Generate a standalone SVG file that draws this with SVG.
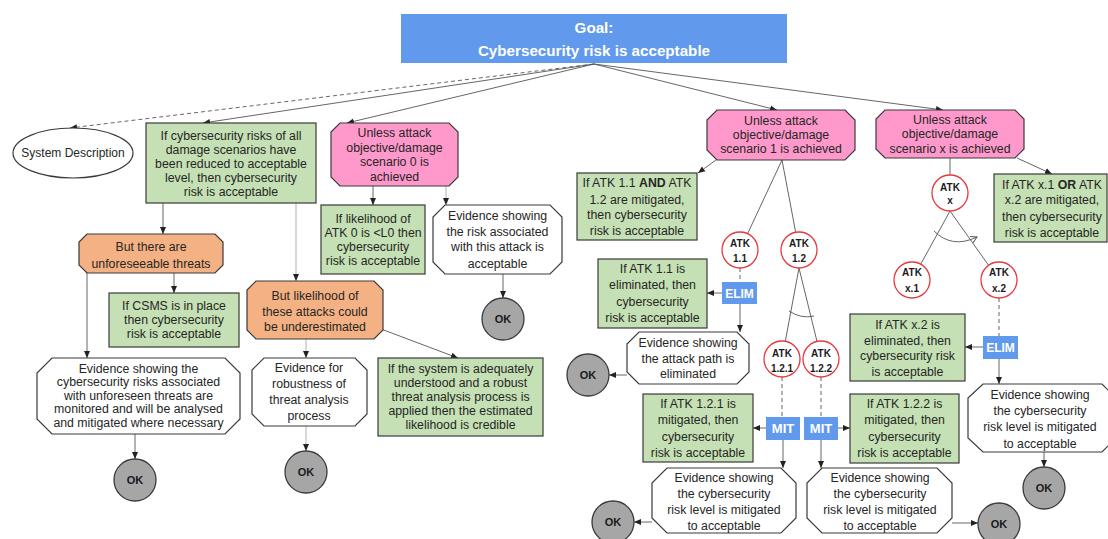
<svg xmlns="http://www.w3.org/2000/svg" width="1108" height="539" viewBox="0 0 1108 539">
  <defs>
    <style>
      .t { font-family: "Liberation Sans", Arial, sans-serif; font-size: 12.3px; fill: #262626; text-anchor: middle; }
      .b { font-weight: bold; }
      .goal { fill: #619AEC; }
      .goaltxt { font-family: "Liberation Sans", Arial, sans-serif; font-size: 15.2px; font-weight: bold; fill: #ffffff; text-anchor: middle; }
      .green { fill: #C5E0B4; stroke: #3A3A3A; stroke-width: 1.2; }
      .orange { fill: #F4B183; stroke: #3A3A3A; stroke-width: 1.2; }
      .pink { fill: #FF99CC; stroke: #3A3A3A; stroke-width: 1.2; }
      .white { fill: #ffffff; stroke: #3A3A3A; stroke-width: 1.2; }
      .ok { fill: #A6A6A6; stroke: #3A3A3A; stroke-width: 1.3; }
      .oktxt { font-family: "Liberation Sans", Arial, sans-serif; font-size: 11px; font-weight: bold; fill: #1a1a1a; text-anchor: middle; }
      .atk { fill: #ffffff; stroke: #E8383D; stroke-width: 1.3; }
      .atktxt { font-family: "Liberation Sans", Arial, sans-serif; font-size: 10px; font-weight: bold; fill: #1a1a1a; text-anchor: middle; }
      .tag { fill: #619AEC; }
      .tagtxt { font-family: "Liberation Sans", Arial, sans-serif; font-weight: bold; fill: #ffffff; text-anchor: middle; }
      .c { stroke: #555555; stroke-width: 0.9; fill: none; }
      .lt { stroke: #A8A8A8; }
      .dash { stroke-dasharray: 4 3; }
      .arr { marker-end: url(#head); }
    </style>
    <marker id="head" markerUnits="userSpaceOnUse" markerWidth="8" markerHeight="8" viewBox="0 0 8 8" refX="7" refY="4" orient="auto">
      <path d="M0,1 L7,4 L0,7 z" fill="#222222"/>
    </marker>
    <marker id="open" markerUnits="userSpaceOnUse" markerWidth="10" markerHeight="10" viewBox="0 0 10 10" refX="8" refY="5" orient="auto">
      <path d="M2,1.5 L8,5 L2,8.5" fill="none" stroke="#555555" stroke-width="1"/>
    </marker>
  </defs>

  <rect width="1108" height="539" fill="#ffffff"/>

  <!-- connectors -->
  <g id="connectors">
    <line class="c dash arr" x1="594" y1="64" x2="70" y2="128"/>
    <line class="c arr" x1="594" y1="64" x2="203" y2="123"/>
    <line class="c arr" x1="594" y1="64" x2="347" y2="123"/>
    <line class="c arr" x1="594" y1="64" x2="777" y2="110"/>
    <line class="c arr" x1="594" y1="64" x2="943" y2="110"/>

    <line class="c arr" x1="163" y1="203" x2="163" y2="234"/>
    <line class="c lt arr" x1="296" y1="203" x2="296" y2="281"/>
    <line class="c arr" x1="174" y1="273" x2="174" y2="293"/>
    <line class="c arr" x1="87" y1="273" x2="87" y2="358"/>
    <line class="c arr" x1="135" y1="434" x2="135" y2="459"/>
    <line class="c lt arr" x1="306" y1="339" x2="306" y2="358"/>
    <line class="c lt arr" x1="306" y1="426" x2="306" y2="451"/>
    <line class="c arr" x1="381" y1="329" x2="458" y2="358"/>

    <line class="c arr" x1="373" y1="186" x2="373" y2="205"/>
    <line class="c lt arr" x1="446" y1="186" x2="446" y2="205"/>
    <line class="c arr" x1="503" y1="274" x2="503" y2="298"/>

    <line class="c arr" x1="716" y1="160" x2="698" y2="173"/>
    <line class="c" x1="782" y1="160" x2="747.6" y2="233.7"/>
    <line class="c" x1="782" y1="160" x2="795.7" y2="232.3"/>
    <line class="c dash" x1="740" y1="268" x2="740" y2="282"/>
    <line class="c arr" x1="722" y1="293" x2="707" y2="293"/>
    <line class="c arr" x1="740" y1="304" x2="740" y2="332"/>
    <line class="c arr" x1="627" y1="375" x2="609" y2="375"/>

    <line class="c" x1="799" y1="268" x2="785.3" y2="341.3"/>
    <line class="c" x1="799" y1="268" x2="817" y2="341.5"/>
    <path class="c" d="M789,311 Q801,319 814,316"/>
    <line class="c dash" x1="782" y1="377" x2="782" y2="417"/>
    <line class="c dash" x1="821" y1="377" x2="821" y2="417"/>
    <line class="c arr" x1="766" y1="428" x2="753" y2="428"/>
    <line class="c arr" x1="838" y1="428" x2="850" y2="428"/>
    <line class="c arr" x1="783" y1="440" x2="783" y2="468"/>
    <line class="c arr" x1="821" y1="440" x2="821" y2="468"/>
    <line class="c arr" x1="652" y1="522" x2="634" y2="522"/>
    <line class="c arr" x1="952" y1="523" x2="978" y2="523"/>

    <line class="c arr" x1="1017" y1="158" x2="1052" y2="174"/>
    <line class="c" x1="950" y1="158" x2="950" y2="175"/>
    <line class="c" x1="950" y1="211" x2="920.7" y2="264.2"/>
    <line class="c" x1="950" y1="211" x2="988.6" y2="265.3"/>
    <path class="c" d="M934,231 Q952,249 977,237" marker-end="url(#open)"/>
    <line class="c dash" x1="999" y1="298" x2="999" y2="336"/>
    <line class="c arr" x1="983" y1="347" x2="965" y2="347"/>
    <line class="c arr" x1="999" y1="359" x2="999" y2="384"/>
    <line class="c arr" x1="1044" y1="452" x2="1044" y2="467"/>
  </g>

  <!-- goal -->
  <g id="goal">
    <rect class="goal" x="401" y="14" width="386" height="49"/>
    <text class="goaltxt" x="594" y="33">Goal:</text>
    <text class="goaltxt" x="594" y="56">Cybersecurity risk is acceptable</text>
  </g>

  <g id="system-description">
    <ellipse class="white" cx="73" cy="153" rx="60" ry="25"/>
    <text class="t" x="73" y="157" style="font-size:12px">System Description</text>
  </g>

  <g id="all-scenarios-reduced">
    <rect class="green" x="146" y="123" width="170" height="80"/>
    <text class="t" x="231"><tspan x="231" y="139.5">If cybersecurity risks of all</tspan><tspan x="231" y="153.5">damage scenarios have</tspan><tspan x="231" y="167.5">been reduced to acceptable</tspan><tspan x="231" y="181.5">level, then cybersecurity</tspan><tspan x="231" y="195.5">risk is acceptable</tspan></text>
  </g>

  <g id="unforeseeable-threats">
    <polygon class="orange" points="87,234 215,234 223,242 223,265 215,273 87,273 79,265 79,242"/>
    <text class="t"><tspan x="151" y="251">But there are</tspan><tspan x="151" y="267.5">unforeseeable threats</tspan></text>
  </g>

  <g id="csms">
    <rect class="green" x="109" y="293" width="130" height="54"/>
    <text class="t"><tspan x="174" y="309.5">If CSMS is in place</tspan><tspan x="174" y="323.5">then cybersecurity</tspan><tspan x="174" y="337.5">risk is acceptable</tspan></text>
  </g>

  <g id="evidence-unforeseen">
    <polygon class="white" points="52,358 225,358 240,373 240,419 225,434 52,434 37,419 37,373"/>
    <text class="t"><tspan x="138.5" y="372.5">Evidence showing the</tspan><tspan x="138.5" y="386">cybersecurity risks associated</tspan><tspan x="138.5" y="399.5">with unforeseen threats are</tspan><tspan x="138.5" y="413">monitored and will be analysed</tspan><tspan x="138.5" y="426.5">and mitigated where necessary</tspan></text>
  </g>

  <g id="ok-1">
    <circle class="ok" cx="135" cy="480" r="21"/>
    <text class="oktxt" x="135" y="484">OK</text>
  </g>

  <g id="underestimated">
    <polygon class="orange" points="256,281 374,281 383,290 383,330 374,339 256,339 247,330 247,290"/>
    <text class="t"><tspan x="315" y="299.5">But likelihood of</tspan><tspan x="315" y="315.5">these attacks could</tspan><tspan x="315" y="331">be underestimated</tspan></text>
  </g>

  <g id="evidence-robustness">
    <polygon class="white" points="264,358 355,358 367,370 367,414 355,426 264,426 252,414 252,370"/>
    <text class="t"><tspan x="309" y="372">Evidence for</tspan><tspan x="309" y="388">robustness of</tspan><tspan x="309" y="404">threat analysis</tspan><tspan x="309" y="420">process</tspan></text>
  </g>

  <g id="ok-2">
    <circle class="ok" cx="306" cy="472" r="21"/>
    <text class="oktxt" x="306" y="476">OK</text>
  </g>

  <g id="likelihood-credible">
    <rect class="green" x="378" y="358" width="165" height="78"/>
    <text class="t"><tspan x="460.5" y="372.5">If the system is adequately</tspan><tspan x="460.5" y="386.5">understood and a robust</tspan><tspan x="460.5" y="401">threat analysis process is</tspan><tspan x="460.5" y="414.5">applied then the estimated</tspan><tspan x="460.5" y="428.5">likelihood is credible</tspan></text>
  </g>

  <g id="scenario-0">
    <polygon class="pink" points="340,123 449,123 458,132 458,177 449,186 340,186 331,177 331,132"/>
    <text class="t"><tspan x="394.5" y="136.5">Unless attack</tspan><tspan x="394.5" y="151.5">objective/damage</tspan><tspan x="394.5" y="166">scenario 0 is</tspan><tspan x="394.5" y="180.5">achieved</tspan></text>
  </g>

  <g id="likelihood-atk0">
    <rect class="green" x="321" y="205" width="104" height="69"/>
    <text class="t"><tspan x="373" y="222.5">If likelihood of</tspan><tspan x="373" y="236.5">ATK 0 is &lt;L0 then</tspan><tspan x="373" y="251">cybersecurity</tspan><tspan x="373" y="264.5">risk is acceptable</tspan></text>
  </g>

  <g id="evidence-atk0">
    <polygon class="white" points="445,205 550,205 562,217 562,262 550,274 445,274 433,262 433,217"/>
    <text class="t"><tspan x="497.5" y="220">Evidence showing</tspan><tspan x="497.5" y="236">the risk associated</tspan><tspan x="497.5" y="251">with this attack is</tspan><tspan x="497.5" y="267.5">acceptable</tspan></text>
  </g>

  <g id="ok-3">
    <circle class="ok" cx="503" cy="319" r="21"/>
    <text class="oktxt" x="503" y="323">OK</text>
  </g>

  <g id="scenario-1">
    <polygon class="pink" points="717,110 845,110 855,120 855,150 845,160 717,160 707,150 707,120"/>
    <text class="t"><tspan x="781" y="124.5">Unless attack</tspan><tspan x="781" y="138.5">objective/damage</tspan><tspan x="781" y="153">scenario 1 is achieved</tspan></text>
  </g>

  <g id="and-mitigated">
    <rect class="green" x="577" y="173" width="120" height="67"/>
    <text class="t"><tspan x="637" y="187">If ATK 1.1 <tspan class="b">AND</tspan> ATK</tspan><tspan x="637" y="203.5">1.2 are mitigated,</tspan><tspan x="637" y="219">then cybersecurity</tspan><tspan x="637" y="235">risk is acceptable</tspan></text>
  </g>

  <g id="atk-1-1">
    <circle class="atk" cx="740" cy="250" r="18"/>
    <text class="atktxt"><tspan x="740" y="247">ATK</tspan><tspan x="740" y="262">1.1</tspan></text>
  </g>

  <g id="elim-1-1">
    <rect class="tag" x="722" y="282" width="35" height="22"/>
    <text class="tagtxt" x="739.5" y="297.5" style="font-size:12px">ELIM</text>
  </g>

  <g id="eliminated-1-1">
    <rect class="green" x="598" y="259" width="109" height="69"/>
    <text class="t"><tspan x="652.5" y="272.5">If ATK 1.1 is</tspan><tspan x="652.5" y="289">eliminated, then</tspan><tspan x="652.5" y="305.5">cybersecurity</tspan><tspan x="652.5" y="321.5">risk is acceptable</tspan></text>
  </g>

  <g id="evidence-path-eliminated">
    <polygon class="white" points="639,332 737,332 749,344 749,372 737,384 639,384 627,372 627,344"/>
    <text class="t"><tspan x="688" y="347">Evidence showing</tspan><tspan x="688" y="363">the attack path is</tspan><tspan x="688" y="378">eliminated</tspan></text>
  </g>

  <g id="ok-4">
    <circle class="ok" cx="588" cy="375" r="21"/>
    <text class="oktxt" x="588" y="379">OK</text>
  </g>

  <g id="atk-1-2">
    <circle class="atk" cx="799" cy="250" r="18"/>
    <text class="atktxt"><tspan x="799" y="247">ATK</tspan><tspan x="799" y="262">1.2</tspan></text>
  </g>

  <g id="atk-1-2-1">
    <circle class="atk" cx="782" cy="359" r="18"/>
    <text class="atktxt"><tspan x="782" y="356.5">ATK</tspan><tspan x="782" y="371.5">1.2.1</tspan></text>
  </g>

  <g id="atk-1-2-2">
    <circle class="atk" cx="821" cy="359" r="18"/>
    <text class="atktxt"><tspan x="821" y="356.5">ATK</tspan><tspan x="821" y="371.5">1.2.2</tspan></text>
  </g>

  <g id="mit-1-2-1">
    <rect class="tag" x="766" y="417" width="34" height="23"/>
    <text class="tagtxt" x="783" y="433" style="font-size:13px">MIT</text>
  </g>

  <g id="mit-1-2-2">
    <rect class="tag" x="804" y="417" width="34" height="23"/>
    <text class="tagtxt" x="821" y="433" style="font-size:13px">MIT</text>
  </g>

  <g id="mitigated-1-2-1">
    <rect class="green" x="643" y="394" width="110" height="68"/>
    <text class="t"><tspan x="698" y="408">If ATK 1.2.1 is</tspan><tspan x="698" y="424">mitigated, then</tspan><tspan x="698" y="440.5">cybersecurity</tspan><tspan x="698" y="456.5">risk is acceptable</tspan></text>
  </g>

  <g id="mitigated-1-2-2">
    <rect class="green" x="850" y="394" width="109" height="69"/>
    <text class="t"><tspan x="904.5" y="408">If ATK 1.2.2 is</tspan><tspan x="904.5" y="424">mitigated, then</tspan><tspan x="904.5" y="440.5">cybersecurity</tspan><tspan x="904.5" y="456.5">risk is acceptable</tspan></text>
  </g>

  <g id="evidence-mitigated-1-2-1">
    <polygon class="white" points="667,468 781,468 796,483 796,518 781,533 667,533 652,518 652,483"/>
    <text class="t"><tspan x="724" y="481.5">Evidence showing</tspan><tspan x="724" y="497.5">the cybersecurity</tspan><tspan x="724" y="513.5">risk level is mitigated</tspan><tspan x="724" y="530">to acceptable</tspan></text>
  </g>

  <g id="ok-5">
    <circle class="ok" cx="613" cy="522" r="21"/>
    <text class="oktxt" x="613" y="526">OK</text>
  </g>

  <g id="evidence-mitigated-1-2-2">
    <polygon class="white" points="822,468 937,468 952,483 952,518 937,533 822,533 807,518 807,483"/>
    <text class="t"><tspan x="880" y="481.5">Evidence showing</tspan><tspan x="880" y="497.5">the cybersecurity</tspan><tspan x="880" y="513.5">risk level is mitigated</tspan><tspan x="880" y="530">to acceptable</tspan></text>
  </g>

  <g id="ok-6">
    <circle class="ok" cx="999" cy="524" r="21"/>
    <text class="oktxt" x="999" y="528">OK</text>
  </g>

  <g id="scenario-x">
    <polygon class="pink" points="885,110 1015,110 1024,119 1024,149 1015,158 885,158 876,149 876,119"/>
    <text class="t"><tspan x="950" y="123.5">Unless attack</tspan><tspan x="950" y="137.5">objective/damage</tspan><tspan x="950" y="152.5">scenario x is achieved</tspan></text>
  </g>

  <g id="or-mitigated">
    <rect class="green" x="994" y="174" width="113" height="68"/>
    <text class="t"><tspan x="1052" y="188.5">If ATK x.1 <tspan class="b">OR</tspan> ATK</tspan><tspan x="1052" y="204">x.2 are mitigated,</tspan><tspan x="1052" y="221">then cybersecurity</tspan><tspan x="1052" y="237">risk is acceptable</tspan></text>
  </g>

  <g id="atk-x">
    <circle class="atk" cx="950" cy="193" r="18"/>
    <text class="atktxt"><tspan x="950" y="190.5">ATK</tspan><tspan x="950" y="204">x</tspan></text>
  </g>

  <g id="atk-x-1">
    <circle class="atk" cx="912" cy="280" r="18"/>
    <text class="atktxt"><tspan x="912" y="275.5">ATK</tspan><tspan x="912" y="292">x.1</tspan></text>
  </g>

  <g id="atk-x-2">
    <circle class="atk" cx="999" cy="280" r="18"/>
    <text class="atktxt"><tspan x="999" y="275.5">ATK</tspan><tspan x="999" y="292">x.2</tspan></text>
  </g>

  <g id="elim-x-2">
    <rect class="tag" x="983" y="336" width="35" height="23"/>
    <text class="tagtxt" x="1000.5" y="352" style="font-size:12px">ELIM</text>
  </g>

  <g id="eliminated-x-2">
    <rect class="green" x="850" y="314" width="115" height="67"/>
    <text class="t"><tspan x="907.5" y="329">If ATK x.2 is</tspan><tspan x="907.5" y="345">eliminated, then</tspan><tspan x="907.5" y="360">cybersecurity risk</tspan><tspan x="907.5" y="376">is acceptable</tspan></text>
  </g>

  <g id="evidence-mitigated-x-2">
    <polygon class="white" points="983,384 1102,384 1116,398 1116,438 1102,452 983,452 968,438 968,398"/>
    <text class="t"><tspan x="1040" y="399">Evidence showing</tspan><tspan x="1040" y="415">the cybersecurity</tspan><tspan x="1040" y="431">risk level is mitigated</tspan><tspan x="1040" y="447.5">to acceptable</tspan></text>
  </g>

  <g id="ok-7">
    <circle class="ok" cx="1044" cy="488" r="21"/>
    <text class="oktxt" x="1044" y="492">OK</text>
  </g>
</svg>
